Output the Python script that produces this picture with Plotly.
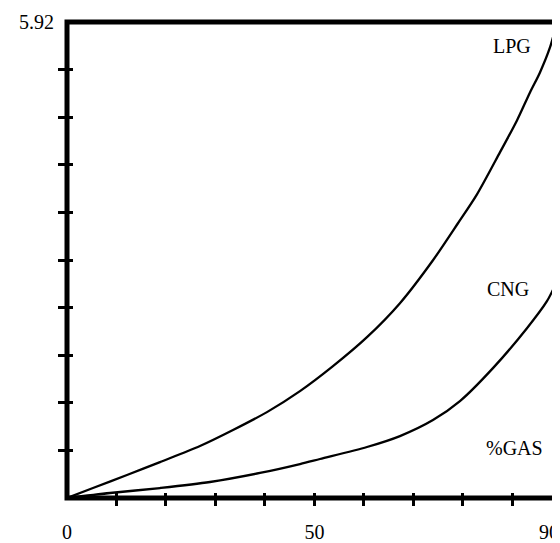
import plotly.graph_objects as go

# Data (x: % gas, y: value)
lpg_x = [0, 5.25, 12.12, 18.79, 26.87, 33.54, 40.40, 47.07, 53.74, 60.61, 67.27, 73.94, 78.99, 82.83, 87.47, 90.91, 93.54, 95.56, 97.58, 99.0]
lpg_y = [0, 0.124, 0.286, 0.447, 0.646, 0.845, 1.068, 1.329, 1.640, 2.000, 2.423, 2.957, 3.417, 3.777, 4.299, 4.696, 5.044, 5.293, 5.603, 5.92]
cng_x = [0, 8.69, 18.79, 28.89, 38.99, 47.07, 51.11, 60.61, 67.27, 73.94, 79.39, 86.06, 92.93, 96.97, 99.0]
cng_y = [0, 0.062, 0.124, 0.199, 0.311, 0.422, 0.485, 0.634, 0.770, 0.969, 1.205, 1.615, 2.112, 2.448, 2.696]

x_max = 99.0
y_max = 5.92
x_label_vals = [0, 50, 97.4]
x_label_text = ["0", "50", "90"]
x_minor_ticks = [10, 20, 30, 40, 50, 60, 70, 80, 90]
y_minor_ticks = [0.592 * k for k in range(1, 10)]
curve_labels = [("LPG", 90.0, 5.62), ("CNG", 89.0, 2.60), ("%GAS", 90.5, 0.62)]

FONT = "Liberation Serif"
LINE = dict(color="black", width=2.3, shape="spline", smoothing=0.8)

fig = go.Figure()
fig.add_trace(go.Scatter(x=lpg_x, y=lpg_y, mode="lines", line=LINE, showlegend=False, hoverinfo="skip"))
fig.add_trace(go.Scatter(x=cng_x, y=cng_y, mode="lines", line=LINE, showlegend=False, hoverinfo="skip"))

for txt, xx, yy in curve_labels:
    fig.add_annotation(x=xx, y=yy, xref="x", yref="y", text=txt, showarrow=False,
                       font=dict(family=FONT, size=20, color="black"))

# thick frame around the plot area
fig.add_shape(type="rect", xref="paper", yref="paper", x0=0, x1=1, y0=0, y1=1,
              line=dict(color="black", width=5), layer="above")

common_x = dict(range=[0, x_max], showgrid=False, zeroline=False, fixedrange=True,
                showline=False, automargin=False)
common_y = dict(range=[0, y_max], showgrid=False, zeroline=False, fixedrange=True,
                showline=False, automargin=False)

# the page body adds an 8px offset, so the figure is 8px smaller with margins reduced by 8
fig.update_layout(
    width=552, height=535,
    margin=dict(l=59, r=3, t=14, b=45, pad=0),
    paper_bgcolor="white", plot_bgcolor="white",
    font=dict(family=FONT, size=20, color="black"),
    xaxis=dict(**common_x, tickmode="array", tickvals=x_label_vals, ticktext=x_label_text,
               ticks="", ticklabelstandoff=20),
    yaxis=dict(**common_y, tickmode="array", tickvals=[y_max], ticktext=["5.92"],
               ticks="", ticklabelstandoff=12),
    xaxis2=dict(**common_x, overlaying="x", anchor="y", side="bottom",
                tickmode="array", tickvals=x_minor_ticks, ticks="outside", ticklen=7, tickwidth=2.5,
                tickcolor="black", showticklabels=False),
    xaxis3=dict(**common_x, overlaying="x", anchor="y", side="bottom",
                tickmode="array", tickvals=x_minor_ticks, ticks="inside", ticklen=5, tickwidth=2.5,
                tickcolor="black", showticklabels=False),
    yaxis2=dict(**common_y, overlaying="y", anchor="x", side="left",
                tickmode="array", tickvals=y_minor_ticks, ticks="outside", ticklen=8, tickwidth=2.5,
                tickcolor="black", showticklabels=False),
    yaxis3=dict(**common_y, overlaying="y", anchor="x", side="left",
                tickmode="array", tickvals=y_minor_ticks, ticks="inside", ticklen=6, tickwidth=2.5,
                tickcolor="black", showticklabels=False),
)

# invisible traces that activate the overlay tick axes
fig.add_trace(go.Scatter(x=[0], y=[0], xaxis="x2", yaxis="y2", mode="markers",
                         marker=dict(opacity=0), showlegend=False, hoverinfo="skip"))
fig.add_trace(go.Scatter(x=[0], y=[0], xaxis="x3", yaxis="y3", mode="markers",
                         marker=dict(opacity=0), showlegend=False, hoverinfo="skip"))

fig.write_html("out.html")
